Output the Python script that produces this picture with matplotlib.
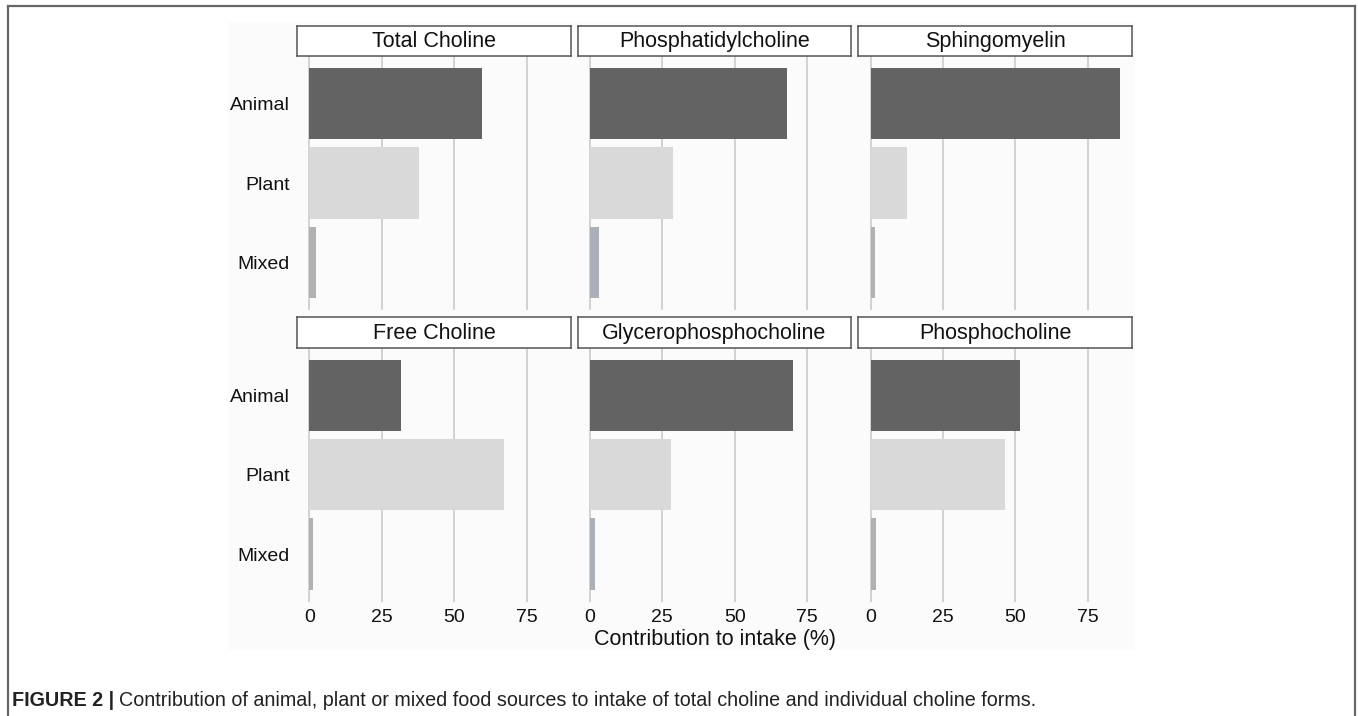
import matplotlib
matplotlib.use("Agg")
import matplotlib.pyplot as plt
from matplotlib import font_manager
from matplotlib.patches import Rectangle
from matplotlib.lines import Line2D

# ---- data -----------------------------------------------------------
PANELS = ["Total Choline", "Phosphatidylcholine", "Sphingomyelin",
          "Free Choline", "Glycerophosphocholine", "Phosphocholine"]
SOURCES = ["Animal", "Plant", "Mixed"]
ANIMAL = [59.6, 68.2, 86.0, 31.6, 70.1, 51.4]
PLANT = [38.0, 28.6, 12.4, 67.1, 28.0, 46.5]
MIXED = [2.4, 3.2, 1.6, 1.4, 1.8, 1.9]
XTICKS = [0, 25, 50, 75]

CAPTION_BOLD = "FIGURE 2 |"
CAPTION = ("Contribution of animal, plant or mixed food sources to intake of "
           "total choline and individual choline forms.")

# ---- style ----------------------------------------------------------
W, H = 1358, 716
COL_ANIMAL = "#636363"
COL_PLANT = "#d9d9d9"
MIXED_COLORS = ["#b1b1b1", "#a9b0b8", "#b1b1b1", "#b1b1b1", "#a9b0b8", "#b1b1b1"]
BG = "#fbfbfb"
FS_TICK = 14
FS_BIG = 15.5

names = {f.name for f in font_manager.fontManager.ttflist}
SANS = "Liberation Sans" if "Liberation Sans" in names else "DejaVu Sans"
NARROW = "Liberation Sans Narrow" if "Liberation Sans Narrow" in names else SANS
plt.rcParams["font.family"] = SANS

fig = plt.figure(figsize=(W / 100, H / 100), dpi=100)
fig.patch.set_facecolor("white")


def px(x0, y0, w, h):
    """pixel box (top-left origin) -> figure fraction rect"""
    return [x0 / W, 1 - (y0 + h) / H, w / W, h / H]


# light plot background
fig.add_artist(Rectangle((229 / W, 1 - 650 / H), (1135 - 229) / W, (650 - 22) / H,
                         transform=fig.transFigure, facecolor=BG,
                         edgecolor="none", zorder=-5))

# outer frame (top, left, right)
for xs, ys in [([8, 1355], [6, 6]), ([8, 8], [6, 716]), ([1355, 1355], [6, 716])]:
    fig.add_artist(Line2D([x / W for x in xs], [1 - y / H for y in ys],
                          color="#666666", lw=1.6, transform=fig.transFigure))

col_x = [297, 577.5, 858.3]
row_y = [56, 347.7]
AW, AH = 273.8, 254
strip_h = 30.5

xmax = max(ANIMAL + PLANT + MIXED)
pad = 0.05 * xmax

for i, name in enumerate(PANELS):
    r, c = divmod(i, 3)
    ax = fig.add_axes(px(col_x[c], row_y[r], AW, AH))
    ax.set_facecolor(BG)
    vals = [ANIMAL[i], PLANT[i], MIXED[i]]
    cols = [COL_ANIMAL, COL_PLANT, MIXED_COLORS[i]]
    ax.barh(range(len(SOURCES)), vals, height=0.9, color=cols, zorder=2)
    ax.set_xlim(-pad, xmax + pad)
    ax.set_ylim(len(SOURCES) - 0.4, -0.6)
    ax.set_xticks(XTICKS)
    ax.set_yticks(range(len(SOURCES)))
    ax.grid(axis="x", color="#c8c8c8", lw=1.1, zorder=1)
    ax.tick_params(axis="y", length=0, labelsize=FS_TICK, pad=5, colors="#111111")
    ax.tick_params(axis="x", length=0, labelsize=FS_TICK, pad=5, colors="#111111")
    if c == 0:
        ax.set_yticklabels(SOURCES)
    else:
        ax.set_yticklabels([])
    if r == 1:
        ax.set_xticklabels([str(t) for t in XTICKS])
    else:
        ax.set_xticklabels([])
    for s in ax.spines.values():
        s.set_visible(False)

    # facet strip
    sax = fig.add_axes(px(col_x[c], row_y[r] - strip_h, AW, strip_h))
    sax.set_xticks([])
    sax.set_yticks([])
    sax.set_facecolor("white")
    for s in sax.spines.values():
        s.set_color("#555555")
        s.set_linewidth(1.1)
    sax.text(0.5, 0.47, name, ha="center", va="center", fontsize=FS_BIG,
             color="#111111", transform=sax.transAxes)

fig.text((col_x[0] + col_x[2] + AW) / 2 / W, 1 - 639 / H,
         "Contribution to intake (%)", ha="center", va="center",
         fontsize=FS_BIG, color="#111111")

# caption: bold label, then regular text, fitted to the reference width
cap_y = 1 - 701 / H
cap_fs = 10.8
t1 = fig.text(12 / W, cap_y, CAPTION_BOLD, ha="left", va="center",
              fontsize=cap_fs, fontweight="bold", family=NARROW, color="#222222")
t2 = fig.text(0, cap_y, CAPTION, ha="left", va="center",
              fontsize=cap_fs, family=NARROW, color="#222222")
fig.canvas.draw()
bb = t1.get_window_extent()
t2.set_x((bb.x1 + 5) / W)
fig.canvas.draw()
bb2 = t2.get_window_extent()
if bb2.width > 0:
    scale = (1036 - bb.x0) / (bb2.x1 - bb.x0)
    t1.set_fontsize(cap_fs * scale)
    t2.set_fontsize(cap_fs * scale)
    fig.canvas.draw()
    bb = t1.get_window_extent()
    t2.set_x((bb.x1 + 5) / W)

fig.savefig("out.png", dpi=100)
